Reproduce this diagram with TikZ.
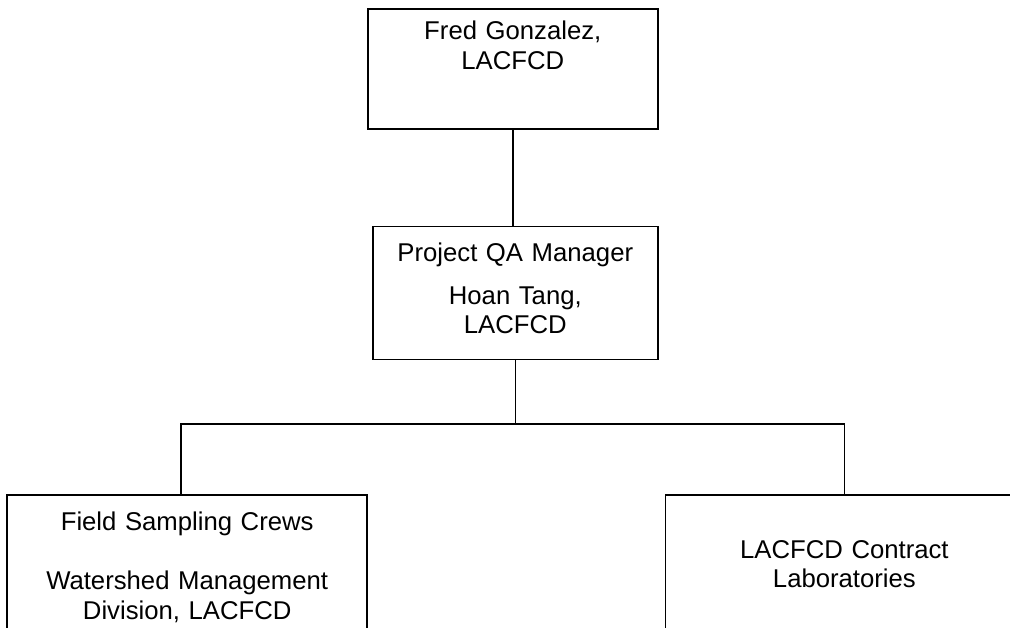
\documentclass[tikz,border=0pt]{standalone}
\usepackage{fontspec}
\setmainfont{Liberation Sans}
\usepackage{tikz}
\usetikzlibrary{positioning}

\begin{document}
\begin{tikzpicture}[%
	x=1pt, y=1pt,
	unit/.style={draw, line width=1.6pt, inner sep=0pt, align=center,
		font=\fontsize{25.7pt}{29.6pt}\selectfont},
	link/.style={line width=1.6pt}]
	\useasboundingbox (0,0) rectangle (1010,-627);
	\clip (0,0) rectangle (1010,-627);
	\node[unit, text width=290pt, text height=31pt, text depth=89pt,
		anchor=north west] (fred) at (367,-8) {Fred Gonzalez,\\LACFCD};
	\node[unit, text width=285pt, text height=35pt, text depth=98pt,
		below left=96pt and 0pt of fred.south east] (qa)
		{Project QA Manager\\[13pt]Hoan Tang,\\LACFCD};
	\node[unit, text width=360pt, text height=35pt, text depth=180pt,
		below left=134pt and 4pt of qa.south west] (crews)
		{Field Sampling Crews\\[30pt]Watershed Management\\Division, LACFCD};
	\node[unit, text width=358pt, text height=63pt, text depth=152pt,
		below right=134pt and 6pt of qa.south east] (labs)
		{LACFCD Contract\\Laboratories};
	\coordinate (fork) at ([yshift=-64pt]qa.south);
	\draw[link] (fred.south) -- (fred.south |- qa.north);
	\draw[link] (qa.south) -- (fork);
	\draw[link] ([xshift=-6pt]crews.north) |- (fork) -| (labs.north);
\end{tikzpicture}
\end{document}
